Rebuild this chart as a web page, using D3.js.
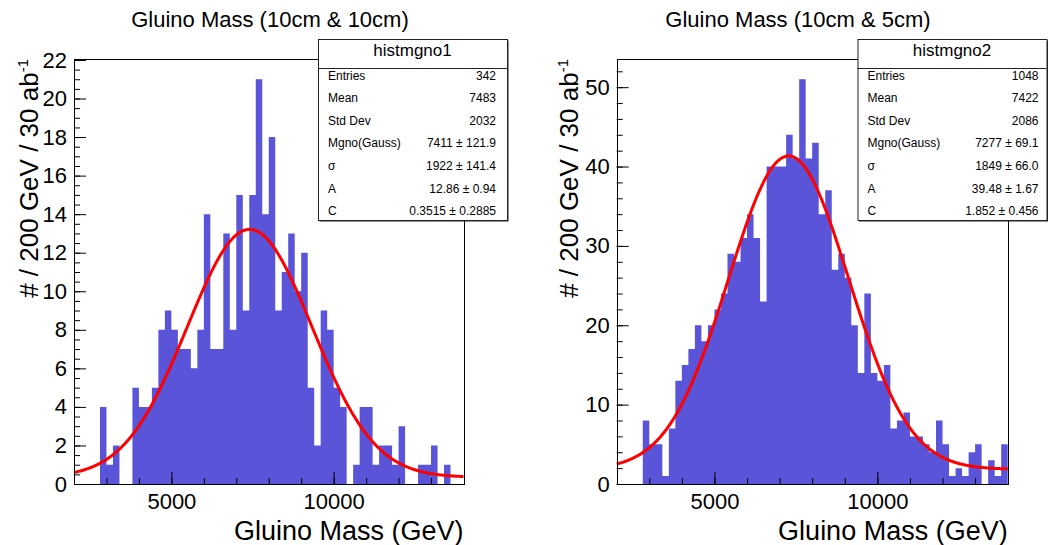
<!DOCTYPE html>
<html>
<head>
<meta charset="utf-8">
<script src="https://cdn.jsdelivr.net/npm/d3@7"></script>
<style>
  html, body { margin: 0; padding: 0; background: #fff; }
  svg { display: block; font-family: "Liberation Sans", Arial, Helvetica, sans-serif; }
</style>
</head>
<body>
<svg id="chart" width="1048" height="545"></svg>
<script>
// ---- data ----
const binLow = 2000, binHigh = 14000, binWidth = 200;

// 60 bins of 200 GeV, 2000 -> 14000
const countsA = [0,0,0,0,4,1,2,0,0,5, 4,4,5,8,9,8,7,7,6,8,
                 14,7,7,13,8,15,9,15,21,14, 18,9,11,13,10,12,5,2,9,8,
                 5,4,0,1,4,4,1,2,2,1, 3,0,0,1,1,2,0,1,0,0];
const countsB = [0,0,0,0,8,5,5,1,7,13, 15,17,20,18,20,22,24,29,28,31,
                 34,31,23,40,40,40,44,41,51,41, 43,34,37,27,29,26,20,14,24,14,
                 13,15,7,8,9,6,6,5,4,8, 5,1,2,1,4,5,0,3,1,5];

// gaussian + constant fit: mean, sigma, A, C
const fitA = [7411, 1922, 12.86, 0.3515];
const fitB = [7277, 1849, 39.48, 1.852];

const titles = ["Gluino Mass (10cm & 10cm)", "Gluino Mass (10cm & 5cm)"];
const statNames = ["histmgno1", "histmgno2"];
const statLabels = ["Entries", "Mean", "Std Dev", "Mgno(Gauss)", "\u03c3", "A", "C"];
const statValuesA = ["342", "7483", "2032", "7411 \u00b1 121.9", "1922 \u00b1 141.4", "12.86 \u00b1 0.94", "0.3515 \u00b1 0.2885"];
const statValuesB = ["1048", "7422", "2086", "7277 \u00b1 69.1", "1849 \u00b1 66.0", "39.48 \u00b1 1.67", "1.852 \u00b1 0.456"];

const xMajorTicks = [5000, 10000];
const xMinorTicks = d3.range(3000, 14000, 1000);
const yTicksA = [0, 2, 4, 6, 8, 10, 12, 14, 16, 18, 20, 22];
const yTicksB = [0, 10, 20, 30, 40, 50];
const yMaxA = 22.05, yMaxB = 53.55;   // ROOT: max * 1.05

const BAR = "#5954d8";
const svg = d3.select("#chart");

function drawPanel(p) {
  const g = svg.append("g");
  const x = d3.scaleLinear().domain([binLow, binHigh]).range([p.left, p.right]);
  const y = d3.scaleLinear().domain([0, p.yMax]).range([p.bottom, p.top]);

  // histogram as one stepped area (no seams between bins)
  const pts = p.counts.map((c, i) => [binLow + i * binWidth, c]);
  pts.push([binHigh, p.counts[p.counts.length - 1]]);
  const area = d3.area()
    .x(d => x(d[0]))
    .y0(y(0))
    .y1(d => y(d[1]))
    .curve(d3.curveStepAfter);
  g.append("path").attr("d", area(pts)).attr("fill", BAR);

  // fit curve
  const [m, s, A, C] = p.fit;
  const line = d3.line()
    .x(d => x(d))
    .y(d => y(A * Math.exp(-0.5 * ((d - m) / s) ** 2) + C));
  g.append("path")
    .attr("d", line(d3.range(binLow, binHigh + 1, 25)))
    .attr("fill", "none")
    .attr("stroke", "#ff0000")
    .attr("stroke-width", 3);

  // frame
  g.append("rect")
    .attr("x", Math.round(p.left) + 0.5)
    .attr("y", Math.round(p.top) + 0.5)
    .attr("width", Math.round(p.right) - Math.round(p.left))
    .attr("height", Math.round(p.bottom) - Math.round(p.top))
    .attr("fill", "none")
    .attr("stroke", "#000")
    .attr("stroke-width", 1);

  // axes, ticks pointing inward like ROOT
  const tidy = sel => {
    sel.select(".domain").remove();
    sel.attr("font-family", null).attr("font-size", null);
    sel.selectAll("text").attr("font-size", 22).attr("fill", "#000");
  };
  g.append("g").attr("transform", `translate(0,${p.bottom})`)
    .call(d3.axisBottom(x).tickValues(xMinorTicks).tickSize(-6).tickFormat(""))
    .call(tidy);
  g.append("g").attr("transform", `translate(0,${p.bottom})`)
    .call(d3.axisBottom(x).tickValues(xMajorTicks).tickSize(-12).tickPadding(9).tickFormat(d3.format("d")))
    .call(tidy);
  g.append("g").attr("transform", `translate(${p.left},0)`)
    .call(d3.axisLeft(y).tickValues(d3.range(0, p.yMax, p.yMinor)).tickSize(-6).tickFormat(""))
    .call(tidy);
  g.append("g").attr("transform", `translate(${p.left},0)`)
    .call(d3.axisLeft(y).tickValues(p.yTicks).tickSize(-12).tickPadding(7).tickFormat(d3.format("d")))
    .call(tidy);

  // titles
  g.append("text")
    .attr("x", p.titleX).attr("y", 27)
    .attr("text-anchor", "middle")
    .attr("font-size", 22)
    .text(p.title);

  g.append("text")
    .attr("x", p.right).attr("y", 540)
    .attr("text-anchor", "end")
    .attr("font-size", 27)
    .text("Gluino Mass (GeV)");

  const yt = g.append("text")
    .attr("transform", `translate(${p.yTitleX},${p.top}) rotate(-90)`)
    .attr("text-anchor", "end")
    .attr("font-size", 26);
  yt.append("tspan").text("# / 200 GeV / 30 ab");
  yt.append("tspan").attr("dy", "-0.7em").attr("font-size", 15).text("-1");

  // stats box
  const bx = p.boxLeft, by = 39, bw = 189, bh = 181, hh = 29;
  const box = g.append("g");
  box.append("rect")
    .attr("x", bx + 1.5).attr("y", by + 1.5).attr("width", bw).attr("height", bh)
    .attr("fill", "#222");
  box.append("rect")
    .attr("x", bx + 0.5).attr("y", by + 0.5).attr("width", bw).attr("height", bh)
    .attr("fill", "#fff").attr("stroke", "#222").attr("stroke-width", 1);
  box.append("line")
    .attr("x1", bx).attr("x2", bx + bw)
    .attr("y1", by + hh + 0.5).attr("y2", by + hh + 0.5)
    .attr("stroke", "#222");
  box.append("text")
    .attr("x", bx + bw / 2).attr("y", by + 17)
    .attr("text-anchor", "middle")
    .attr("font-size", 17)
    .text(p.statName);
  statLabels.forEach((lab, i) => {
    const yy = 79.5 + 22.6 * i;
    box.append("text").attr("x", bx + 10).attr("y", yy)
      .attr("font-size", 12).text(lab);
    box.append("text").attr("x", bx + p.valueOff).attr("y", yy)
      .attr("text-anchor", "end")
      .attr("font-size", 12).text(p.statValues[i]);
  });
}

drawPanel({
  left: 74, right: 463.5, top: 59, bottom: 484,
  yMax: yMaxA, yTicks: yTicksA, yMinor: 0.5,
  counts: countsA, fit: fitA,
  title: titles[0], titleX: 270, yTitleX: 38,
  statName: statNames[0], statValues: statValuesA,
  boxLeft: 318, valueOff: 178
});
drawPanel({
  left: 616.7, right: 1007.7, top: 59, bottom: 484,
  yMax: yMaxB, yTicks: yTicksB, yMinor: 2,
  counts: countsB, fit: fitB,
  title: titles[1], titleX: 798, yTitleX: 578,
  statName: statNames[1], statValues: statValuesB,
  boxLeft: 857.5, valueOff: 181
});
</script>
</body>
</html>
